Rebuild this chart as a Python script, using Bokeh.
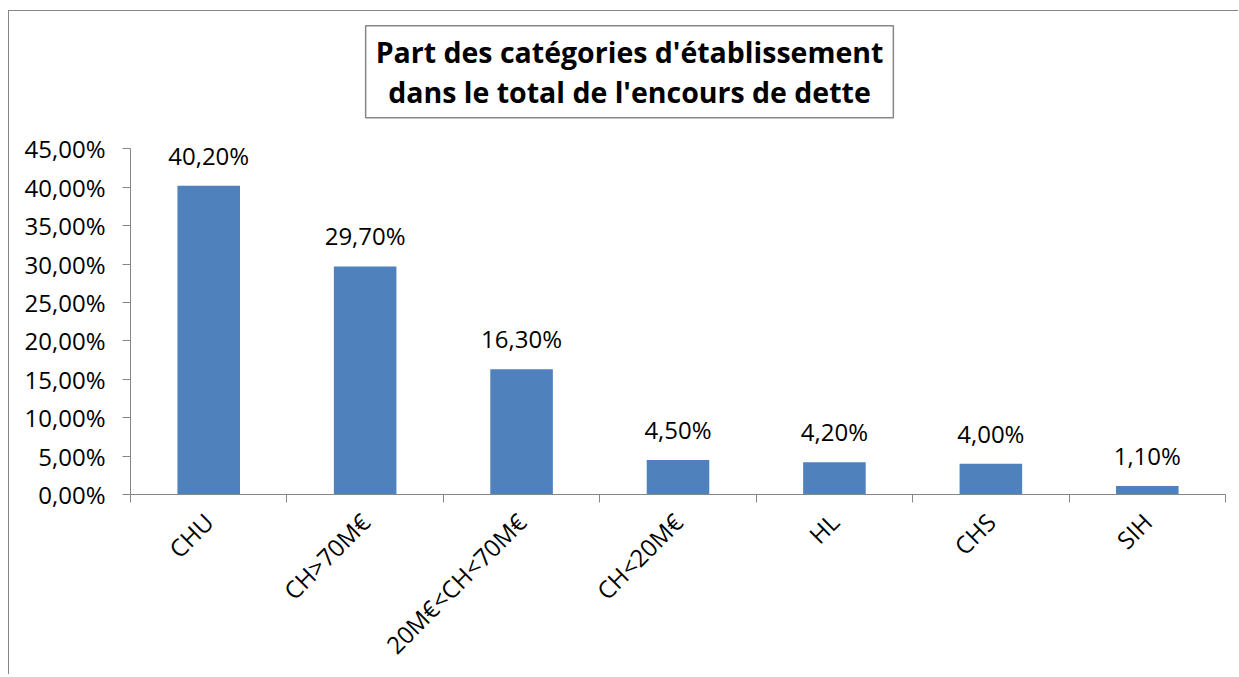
from bokeh.plotting import figure
from bokeh.models import Range1d, FixedTicker, CustomJSTickFormatter, LabelSet, Label, ColumnDataSource
from bokeh.core.properties import value
from bokeh.embed import file_html
from bokeh.resources import INLINE
import math

categories = ["CHU", "CH>70M€", "20M€<CH<70M€", "CH<20M€", "HL", "CHS", "SIH"]
shares = [0.402, 0.297, 0.163, 0.045, 0.042, 0.040, 0.011]
y_ticks = [0.0, 0.05, 0.10, 0.15, 0.20, 0.25, 0.30, 0.35, 0.40, 0.45]
title_text = "Part des catégories d'établissement\ndans le total de l'encours de dette"

FONT = "Open Sans"
GRAY = "#868686"
BAR = "#4F81BD"
FS = "24px"
Y_VIEW_MAX = 0.629   # frame extends above the axis to host the boxed title

x_pos = [i + 0.5 for i in range(len(categories))]
labels = [f"{v*100:.2f}".replace(".", ",") + "%" for v in shares]
src = ColumnDataSource(dict(x=x_pos, top=shares, lab=labels))

p = figure(width=1230, height=664, output_backend="svg", toolbar_location=None,
           x_range=Range1d(0, len(categories)), y_range=Range1d(0, Y_VIEW_MAX),
           min_border_left=121, min_border_top=0, min_border_right=14, min_border_bottom=179)
p.styles = {"margin-left": "8px", "margin-top": "10px",
            "border-left": f"1px solid {GRAY}", "border-top": f"1px solid {GRAY}"}
p.outline_line_color = None
p.xgrid.grid_line_color = None
p.ygrid.grid_line_color = None
p.background_fill_color = "white"
p.border_fill_color = "white"

p.vbar(x="x", top="top", width=0.4, bottom=0, source=src, fill_color=BAR, line_color=None)

ls = LabelSet(x="x", y="top", text="lab", source=src, text_align="center",
              text_baseline="alphabetic", y_offset=21, text_font=value(FONT),
              text_font_size=FS, text_color="black")
p.add_layout(ls)

# axes
yax = p.yaxis[0]
yax.ticker = FixedTicker(ticks=y_ticks)
yax.bounds = (y_ticks[0], y_ticks[-1])
yax.formatter = CustomJSTickFormatter(code="return (tick*100).toFixed(2).replace('.', ',') + '%';")
yax.axis_line_color = GRAY
yax.major_tick_line_color = GRAY
yax.major_tick_out = 8
yax.major_tick_in = 0
yax.minor_tick_line_color = None
yax.major_label_text_font = FONT
yax.major_label_text_font_size = FS
yax.major_label_text_color = "black"
yax.major_label_standoff = 17

xax = p.xaxis[0]
xax.ticker = FixedTicker(ticks=x_pos, minor_ticks=list(range(len(categories) + 1)))
xax.major_label_overrides = {x: c for x, c in zip(x_pos, categories)}
xax.axis_line_color = GRAY
xax.major_tick_line_color = None
xax.minor_tick_line_color = GRAY
xax.minor_tick_out = 8
xax.minor_tick_in = 0
xax.major_label_orientation = math.pi / 4
xax.major_label_text_font = FONT
xax.major_label_text_font_size = FS
xax.major_label_text_color = "black"
xax.major_label_standoff = 15

title = Label(x=3.19, y=0.5505, text=title_text,
              text_align="center", text_baseline="middle", text_font=FONT,
              text_font_style="bold", text_font_size="28.5px", text_line_height=1.05,
              text_color="black",
              border_line_color=GRAY, border_line_width=1.5, background_fill_color="white",
              padding=(10, 7))
p.add_layout(title)

open("out.html", "w").write(file_html(p, INLINE))
